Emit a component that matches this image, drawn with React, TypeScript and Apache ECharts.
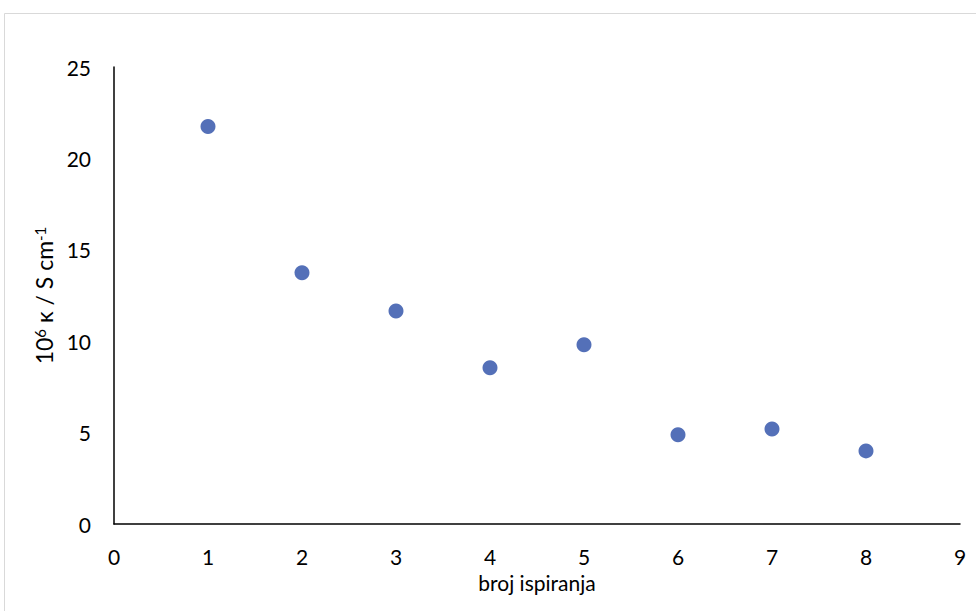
import React, { useEffect, useRef } from "react";
import * as echarts from "echarts";

const washNumbers = [1, 2, 3, 4, 5, 6, 7, 8];
const conductivity = [21.75, 13.75, 11.65, 8.55, 9.8, 4.88, 5.2, 4.0];
const xTicks = [0, 9, 1];
const yTicks = [0, 25, 5];

export default function App() {
  const ref = useRef<HTMLDivElement>(null);
  useEffect(() => {
    if (!ref.current) return;
    const chart = echarts.init(ref.current, null, { renderer: "svg" });
    const font = "Lato, 'Open Sans', sans-serif";
    chart.setOption({
      animation: false,
      backgroundColor: "#ffffff",
      textStyle: { fontFamily: font },
      graphic: [
        {
          type: "rect",
          shape: { x: 4.5, y: 13.5, width: 1000, height: 700 },
          style: { fill: "none", stroke: "#d9d9d9", lineWidth: 1 },
          silent: true,
        },
      ],
      grid: { left: 114, top: 67, right: 16, bottom: 87 },
      xAxis: {
        type: "value",
        min: xTicks[0],
        max: xTicks[1],
        interval: xTicks[2],
        name: "broj ispiranja",
        nameLocation: "middle",
        nameGap: 48,
        nameTextStyle: { fontSize: 21, color: "#000", fontFamily: font },
        axisLine: { show: true, lineStyle: { color: "#000", width: 1.5 } },
        axisTick: { show: false },
        splitLine: { show: false },
        axisLabel: { fontSize: 21, color: "#000", margin: 22, fontFamily: font },
      },
      yAxis: {
        type: "value",
        min: yTicks[0],
        max: yTicks[1],
        interval: yTicks[2],
        name: "{n|10}{s|6}{n| κ / S cm}{s|-1}",
        nameLocation: "middle",
        nameRotate: 90,
        nameGap: 57,
        nameTextStyle: {
          color: "#000",
          fontFamily: font,
          rich: {
            n: { fontSize: 23, color: "#000", fontFamily: font },
            s: { fontSize: 15, color: "#000", fontFamily: font, padding: [0, 0, 9, 0] },
          },
        },
        axisLine: { show: true, lineStyle: { color: "#000", width: 1.5 } },
        axisTick: { show: false },
        splitLine: { show: false },
        axisLabel: { fontSize: 21, color: "#000", margin: 23, fontFamily: font },
      },
      series: [
        {
          type: "scatter",
          data: washNumbers.map((x, i) => [x, conductivity[i]]),
          symbol: "circle",
          symbolSize: 15,
          itemStyle: { color: "#5470b8", opacity: 1 },
        },
      ],
    });
    return () => chart.dispose();
  }, []);
  return (
    <div
      ref={ref}
      style={{ position: "fixed", left: 0, top: 0, width: 976, height: 611 }}
    />
  );
}
